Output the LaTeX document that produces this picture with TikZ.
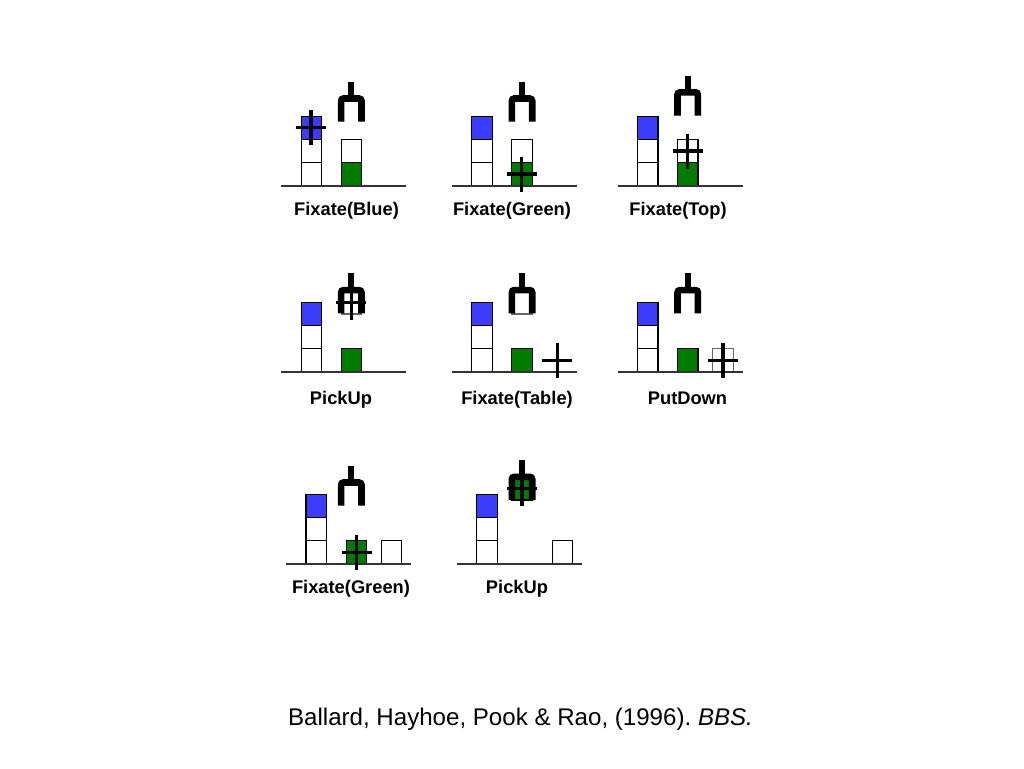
\documentclass[tikz,border=0pt]{standalone}
\usepackage{fontspec}
\setmainfont{Liberation Sans}
\usetikzlibrary{positioning}

\definecolor{blockblue}{RGB}{60,60,255}
\definecolor{blockgreen}{RGB}{0,125,0}

\tikzset{
    gripper/.pic={
        \draw [line width=6.2pt] (0,0) -- (0,17);
        \draw [line width=6.6pt, rounded corners=2.5pt] (-10.2,40) -- (-10.2,16.8) -- (10.2,16.8) -- (10.2,40);
    },
    fixation/.pic={
        \draw [line width=3.5pt] (-15,0) -- (15,0);
        \draw [line width=3.5pt] (0,-17.5) -- (0,17.5);
    }
}

\begin{document}
\begin{tikzpicture}[
        x=1pt, y=-1pt,
        block/.style={
            rectangle,
            draw=black,
            fill=white,
            line width=1.2pt,
            minimum width=20.5pt,
            minimum height=23.3pt,
            inner sep=0pt,
            outer sep=0pt,
            anchor=south west
        },
        blue/.style={block, fill=blockblue},
        green/.style={block, fill=blockgreen},
        ghost/.style={block, draw=black!60},
        table/.style={
            draw=black!80,
            line width=1.2pt
        },
        action/.style={
            anchor=base,
            inner sep=0pt,
            font=\fontsize{18.3}{18.3}\selectfont\bfseries
        }
    ]
        \useasboundingbox (0,0) rectangle (1024,768);

        \node (a1) [block] at (301.3,186) {};
        \node (a2) [block, above=0pt of a1] {};
        \node (a3) [blue, above=0pt of a2] {};
        \node (a4) [green] at (341.3,186) {};
        \node (a5) [block, above=0pt of a4] {};
        \draw [table] (281,186) -- (406,186);
        \pic at (351.3,81.7) {gripper};
        \pic at (311,127.7) {fixation};
        \node (a6) [action] at (346.5,215.5) {Fixate(Blue)};

        \node (b1) [block] at (471.7,186) {};
        \node (b2) [block, above=0pt of b1] {};
        \node (b3) [blue, above=0pt of b2] {};
        \node (b4) [green] at (511.7,186) {};
        \node (b5) [block, above=0pt of b4] {};
        \draw [table] (451.7,186) -- (577,186);
        \pic at (522,81.7) {gripper};
        \pic at (521.7,174) {fixation};
        \node (b6) [action] at (512,215.5) {Fixate(Green)};

        \node (c1) [block] at (637.5,186) {};
        \node (c2) [block, above=0pt of c1] {};
        \node (c3) [blue, above=0pt of c2] {};
        \node (c4) [green] at (677.5,186) {};
        \node (c5) [block, above=0pt of c4] {};
        \draw [table] (618,186) -- (743,186);
        \pic at (687.7,75.5) {gripper};
        \pic at (687.7,151) {fixation};
        \node (c6) [action] at (678,215.5) {Fixate(Top)};

        \node (d1) [block] at (301.3,372) {};
        \node (d2) [block, above=0pt of d1] {};
        \node (d3) [blue, above=0pt of d2] {};
        \node (d4) [green] at (341.3,372) {};
        \node (d5) [ghost] at (341.3,314) {};
        \draw [table] (281,372) -- (406,372);
        \pic at (351.3,273.3) {gripper};
        \pic at (351.3,302.3) {fixation};
        \node (d6) [action] at (341,404) {PickUp};

        \node (e1) [block] at (471.7,372) {};
        \node (e2) [block, above=0pt of e1] {};
        \node (e3) [blue, above=0pt of e2] {};
        \node (e4) [green] at (511.7,372) {};
        \node (e5) [ghost] at (511.7,314) {};
        \draw [table] (451.7,372) -- (577,372);
        \pic at (522,273.3) {gripper};
        \pic at (557.3,360.3) {fixation};
        \node (e6) [action] at (517,404) {Fixate(Table)};

        \node (f1) [block] at (637.5,372) {};
        \node (f2) [block, above=0pt of f1] {};
        \node (f3) [blue, above=0pt of f2] {};
        \node (f4) [green] at (677.5,372) {};
        \node (f5) [ghost] at (712.7,372) {};
        \draw [table] (618,372) -- (743,372);
        \pic at (687.7,273.3) {gripper};
        \pic at (723,360.3) {fixation};
        \node (f6) [action] at (687.5,404) {PutDown};

        \node (g1) [block] at (306,564) {};
        \node (g2) [block, above=0pt of g1] {};
        \node (g3) [blue, above=0pt of g2] {};
        \node (g4) [green] at (346.3,564) {};
        \node (g5) [block] at (381.3,564) {};
        \draw [table] (286,564) -- (411,564);
        \pic at (351.3,465.7) {gripper};
        \pic at (356.5,552.3) {fixation};
        \node (g6) [action] at (351,593.5) {Fixate(Green)};

        \node (h1) [block] at (476.7,564) {};
        \node (h2) [block, above=0pt of h1] {};
        \node (h3) [blue, above=0pt of h2] {};
        \node (h4) [green] at (511.7,500) {};
        \node (h5) [block] at (552.3,564) {};
        \draw [table] (456.7,564) -- (582,564);
        \pic at (522,460) {gripper};
        \pic at (522,488.3) {fixation};
        \node (h6) [action] at (517,593.5) {PickUp};

        \node (source) [anchor=base, inner sep=0pt, font=\fontsize{24.1}{24.1}\selectfont\frenchspacing] at (520.5,725) {Ballard, Hayhoe, Pook \& Rao, (1996). \textit{BBS.}};
    \end{tikzpicture}
\end{document}
